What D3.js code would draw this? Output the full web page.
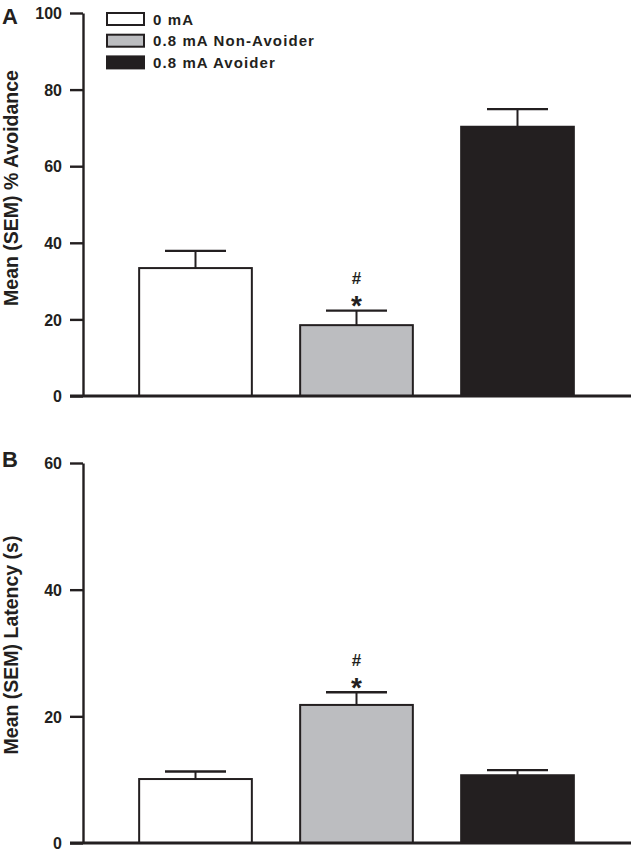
<!DOCTYPE html>
<html>
<head>
<meta charset="utf-8">
<script src="https://cdn.jsdelivr.net/npm/d3@7"></script>
<style>
  body { margin: 0; background: #fff; }
  svg text { font-family: "Liberation Sans", Arial, sans-serif; font-weight: bold; fill: #231f20; }
  svg .tick text { font-family: "Liberation Sans Narrow", "Liberation Sans", Arial, sans-serif; }
</style>
</head>
<body>
<div id="chart"></div>
<script>
// data
const groups = ["0 mA", "0.8 mA Non-Avoider", "0.8 mA Avoider"];
const groupColors = ["#ffffff", "#bcbdc0", "#231f20"];

const avoidMean = [33.4, 18.5, 70.3];
const avoidSem = [4.5, 3.8, 4.6];
const avoidTicks = [0, 20, 40, 60, 80, 100];

const latencyMean = [10.1, 21.8, 10.7];
const latencySem = [1.2, 2.0, 0.8];
const latencyTicks = [0, 20, 40, 60];

// significance markers (only on the Non-Avoider group)
const markGroup = "0.8 mA Non-Avoider";

const W = 633, H = 852;
const ink = "#231f20";

const svg = d3.select("#chart").append("svg")
  .attr("width", W)
  .attr("height", H);

// shared x scale
const x = d3.scaleBand()
  .domain(groups)
  .range([115, 598])
  .paddingInner(0.3)
  .paddingOuter(0.15);

const axisX = 83, axisLeftEnd = 70, axisRightEnd = 631;

function drawPanel(opt) {
  const y = d3.scaleLinear()
    .domain([0, d3.max(opt.ticks)])
    .range([opt.bottom, opt.top]);

  const g = svg.append("g");

  // y axis
  const yAxis = g.append("g")
    .attr("transform", `translate(${axisX},0)`)
    .call(d3.axisLeft(y).tickValues(opt.ticks).tickSize(13).tickSizeOuter(0).tickPadding(8));
  yAxis.select(".domain").attr("stroke", ink).attr("stroke-width", 2.4);
  yAxis.selectAll(".tick line").attr("stroke", ink).attr("stroke-width", 2.4);
  yAxis.selectAll(".tick text")
    .attr("fill", ink)
    .style("font-size", "16px")
    .attr("dy", "0.36em");

  // bars
  g.selectAll(".bar")
    .data(groups)
    .enter()
    .append("rect")
    .attr("class", "bar")
    .attr("x", d => x(d))
    .attr("width", x.bandwidth())
    .attr("y", (d, i) => y(opt.mean[i]))
    .attr("height", (d, i) => y(0) - y(opt.mean[i]))
    .attr("fill", (d, i) => groupColors[i])
    .attr("stroke", ink)
    .attr("stroke-width", 2);

  // error bars (upper only)
  const capW = 61;
  groups.forEach((d, i) => {
    const cx = x(d) + x.bandwidth() / 2;
    const top = y(opt.mean[i] + opt.sem[i]);
    g.append("line")
      .attr("x1", cx).attr("x2", cx)
      .attr("y1", y(opt.mean[i])).attr("y2", top)
      .attr("stroke", ink).attr("stroke-width", 2);
    g.append("line")
      .attr("x1", cx - capW / 2).attr("x2", cx + capW / 2)
      .attr("y1", top).attr("y2", top)
      .attr("stroke", ink).attr("stroke-width", 2.4);

    if (d === markGroup) {
      g.append("text")
        .attr("x", cx)
        .attr("y", top + 4.5)
        .attr("text-anchor", "middle")
        .style("font-size", "28px")
        .text("*");
      g.append("text")
        .attr("x", cx)
        .attr("y", top - 26.5)
        .attr("text-anchor", "middle")
        .style("font-size", "17px")
        .text("#");
    }
  });

  // x axis baseline
  g.append("line")
    .attr("x1", axisLeftEnd).attr("x2", axisRightEnd)
    .attr("y1", y(0)).attr("y2", y(0))
    .attr("stroke", ink)
    .attr("stroke-width", 2.8);

  // y label
  g.append("text")
    .attr("transform", `translate(18,${opt.labelY}) rotate(-90)`)
    .attr("text-anchor", "middle")
    .style("font-size", "19.5px")
    .text(opt.label);

  // panel letter
  g.append("text")
    .attr("x", 2)
    .attr("y", opt.letterY)
    .style("font-size", "22px")
    .text(opt.letter);
}

drawPanel({
  mean: avoidMean, sem: avoidSem, ticks: avoidTicks,
  top: 13, bottom: 396,
  label: "Mean (SEM) % Avoidance", labelY: 188,
  letter: "A", letterY: 24
});

drawPanel({
  mean: latencyMean, sem: latencySem, ticks: latencyTicks,
  top: 463, bottom: 843,
  label: "Mean (SEM) Latency (s)", labelY: 645,
  letter: "B", letterY: 467
});

// legend
const legend = svg.append("g").attr("transform", "translate(107,13)");
groups.forEach((d, i) => {
  const row = legend.append("g").attr("transform", `translate(0,${i * 21.7})`);
  row.append("rect")
    .attr("width", 37)
    .attr("height", 12)
    .attr("fill", groupColors[i])
    .attr("stroke", ink)
    .attr("stroke-width", 2);
  row.append("text")
    .attr("x", 46)
    .attr("y", 11.5)
    .style("font-size", "15px")
    .style("letter-spacing", "1.1px")
    .text(d);
});
</script>
</body>
</html>
